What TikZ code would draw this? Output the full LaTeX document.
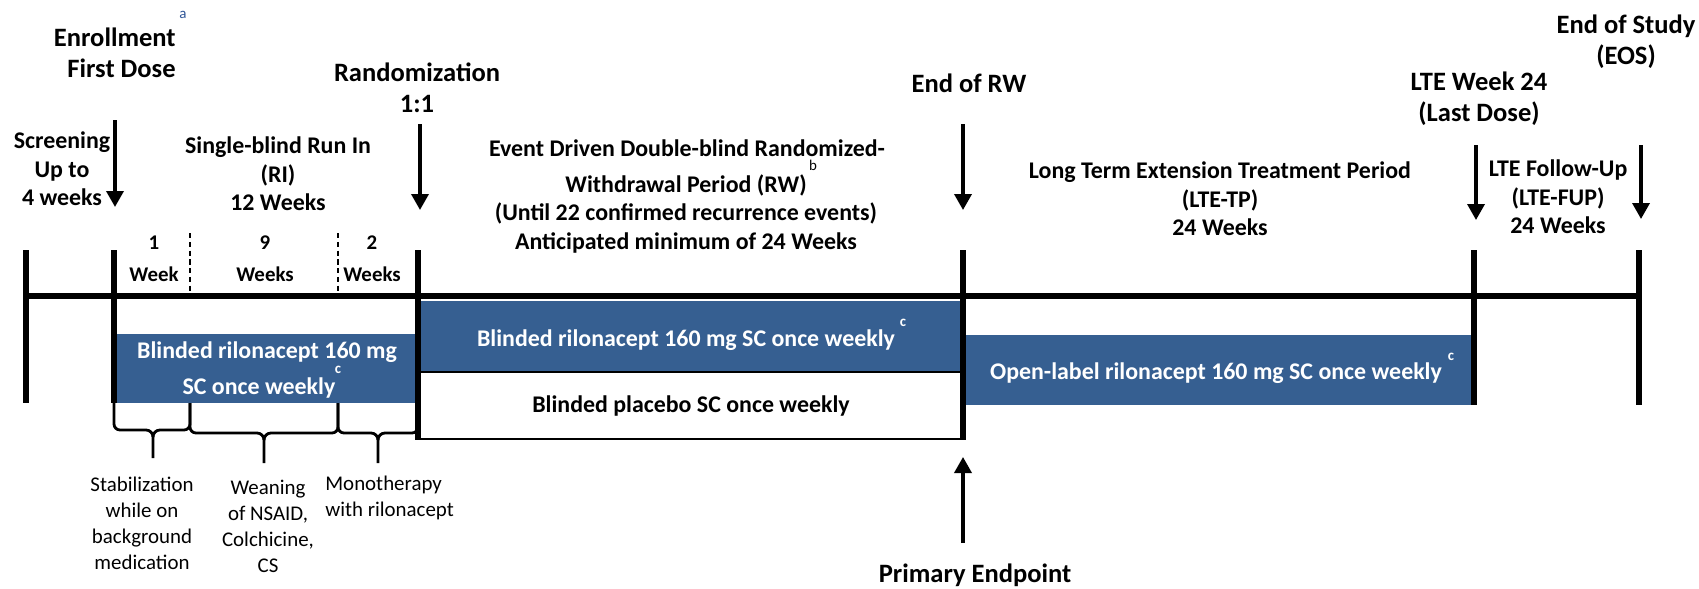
\documentclass[tikz,border=0pt]{standalone}
\usepackage{fontspec}
\setmainfont{Carlito}
\usetikzlibrary{arrows.meta}

\definecolor{rilo}{RGB}{54,95,145}
\definecolor{notea}{RGB}{47,85,151}

\tikzset{
  axis/.style={line width=3.3pt},
  arr/.style={line width=2pt, -{Triangle[length=0.32cm, width=0.34cm]}},
  brc/.style={line width=1.6pt},
  head/.style={font=\fontsize{15.1}{17.6}\selectfont\bfseries, align=center, inner sep=0pt},
  period/.style={font=\fontsize{13.6}{16.2}\selectfont\bfseries, align=center, inner sep=0pt},
  boxtxt/.style={font=\fontsize{13.6}{16}\selectfont\bfseries, inner sep=0pt},
  wk/.style={font=\fontsize{11.9}{18.2}\selectfont\bfseries, align=center, inner sep=0pt},
  note/.style={font=\fontsize{11.9}{14.8}\selectfont, align=center, inner sep=0pt},
  fn/.style={font=\fontsize{8.5}{9}\selectfont, inner sep=0pt},
}

\begin{document}
\begin{tikzpicture}[x=0.02cm, y=-0.02cm]
    \useasboundingbox (0,0) rectangle (1699,588);
    % treatment bars
    \fill[rilo] (114,334) rectangle (418,403);
    \fill[rilo] (420,301) rectangle (963,372);
    \draw[line width=1.1pt] (420,372) rectangle (963,439);
    \fill[rilo] (966,335) rectangle (1472,405);
    % time line
    \draw[axis] (23,296) -- (1642,296);
    \foreach \x/\yb in {26/403, 114/403, 418/440, 963/440, 1474/405, 1639/405}
        \draw[axis] (\x,250) -- (\x,\yb);
    \draw[line width=0.9pt, dash pattern=on 3pt off 2pt] (190,233) -- (190,293);
    \draw[line width=0.9pt, dash pattern=on 3pt off 2pt] (338,233) -- (338,293);
    % milestones
    \foreach \nm/\x/\ya/\yb in {enr/115/120/207, rnd/420/124/210, erw/963/124/210, lte/1476/145/220, eos/1641/145/219} {
        \coordinate (\nm top) at (\x,\ya);
        \coordinate (\nm tip) at (\x,\yb);
        \draw[arr] (\nm top) -- (\nm tip);
    }
    \coordinate (pe tail) at (963,543);
    \coordinate (pe tip) at (963,457);
    \draw[arr] (pe tail) -- (pe tip);
    % braces under run in
    \foreach \xa/\xm/\xb/\ym/\yt in {114/153/190/430/458, 190/264/338/433/463, 338/378/418/433/463} {
        \draw[brc] (\xa,403) -- (\xa,\ym-6) to[out=-90,in=180] (\xa+6,\ym) -- (\xm-7,\ym) to[out=0,in=90] (\xm,\ym+7) -- (\xm,\yt);
        \draw[brc] (\xb,403) -- (\xb,\ym-6) to[out=-90,in=0] (\xb-6,\ym) -- (\xm+7,\ym) to[out=180,in=90] (\xm,\ym+7);
    }

    \node[head, align=right, anchor=east] (enroll) at (176,53) {Enrollment\\First Dose};
    \node[fn, text=notea] (fna) at (183,15) {a};
    \node[head] (rand) at (417,88) {Randomization\\1:1};
    \node[head] (endrw) at (969,83) {End of RW};
    \node[head] (lte24) at (1479,99) {LTE Week 24\\(Last Dose)};
    \node[head] (eos) at (1626,42) {End of Study\\(EOS)};
    \node[head] (primary) at (975,575) {Primary Endpoint};

    \node[period] (scr) at (62,169) {Screening\\Up to\\4 weeks};
    \node[period] (runin) at (278,174) {Single-blind Run In\\(RI)\\12 Weeks};
    \node[period] (rw1) at (687,148) {Event Driven Double-blind Randomized-};
    \node[period] (rw2) at (686,214) {Withdrawal Period (RW)\\(Until 22 confirmed recurrence events)\\Anticipated minimum of 24 Weeks};
    \node[fn] (fnb) at (813,165) {b};
    \node[period] (ltetp) at (1220,199) {Long Term Extension Treatment Period\\(LTE-TP)\\24 Weeks};
    \node[period] (ltefup) at (1558,197) {LTE Follow-Up\\(LTE-FUP)\\24 Weeks};

    \node[wk] (wk1) at (154,259) {1\\Week};
    \node[wk] (wk9) at (265,259) {9\\Weeks};
    \node[wk] (wk2) at (372,259) {2\\Weeks};

    \node[boxtxt, text=white] (ri1) at (267,352) {Blinded rilonacept 160 mg};
    \node[boxtxt, text=white] (ri2) at (259,388) {SC once weekly};
    \node[fn, text=white] (fnc1) at (338,370) {\bfseries c};
    \node[boxtxt, text=white] (rwact) at (686,340) {Blinded rilonacept 160 mg SC once weekly};
    \node[fn, text=white] (fnc2) at (903,323) {\bfseries c};
    \node[boxtxt] (rwpbo) at (691,406) {Blinded placebo SC once weekly};
    \node[boxtxt, text=white] (olact) at (1216,373) {Open-label rilonacept 160 mg SC once weekly};
    \node[fn, text=white] (fnc3) at (1451,357) {\bfseries c};

    \node[note] (stab) at (142,523) {Stabilization\\while on\\background\\medication};
    \node[note] (wean) at (268,526) {Weaning\\of NSAID,\\Colchicine,\\CS};
    \node[note, align=left, anchor=west] (mono) at (325,498) {Monotherapy\\with rilonacept};
\end{tikzpicture}
\end{document}
